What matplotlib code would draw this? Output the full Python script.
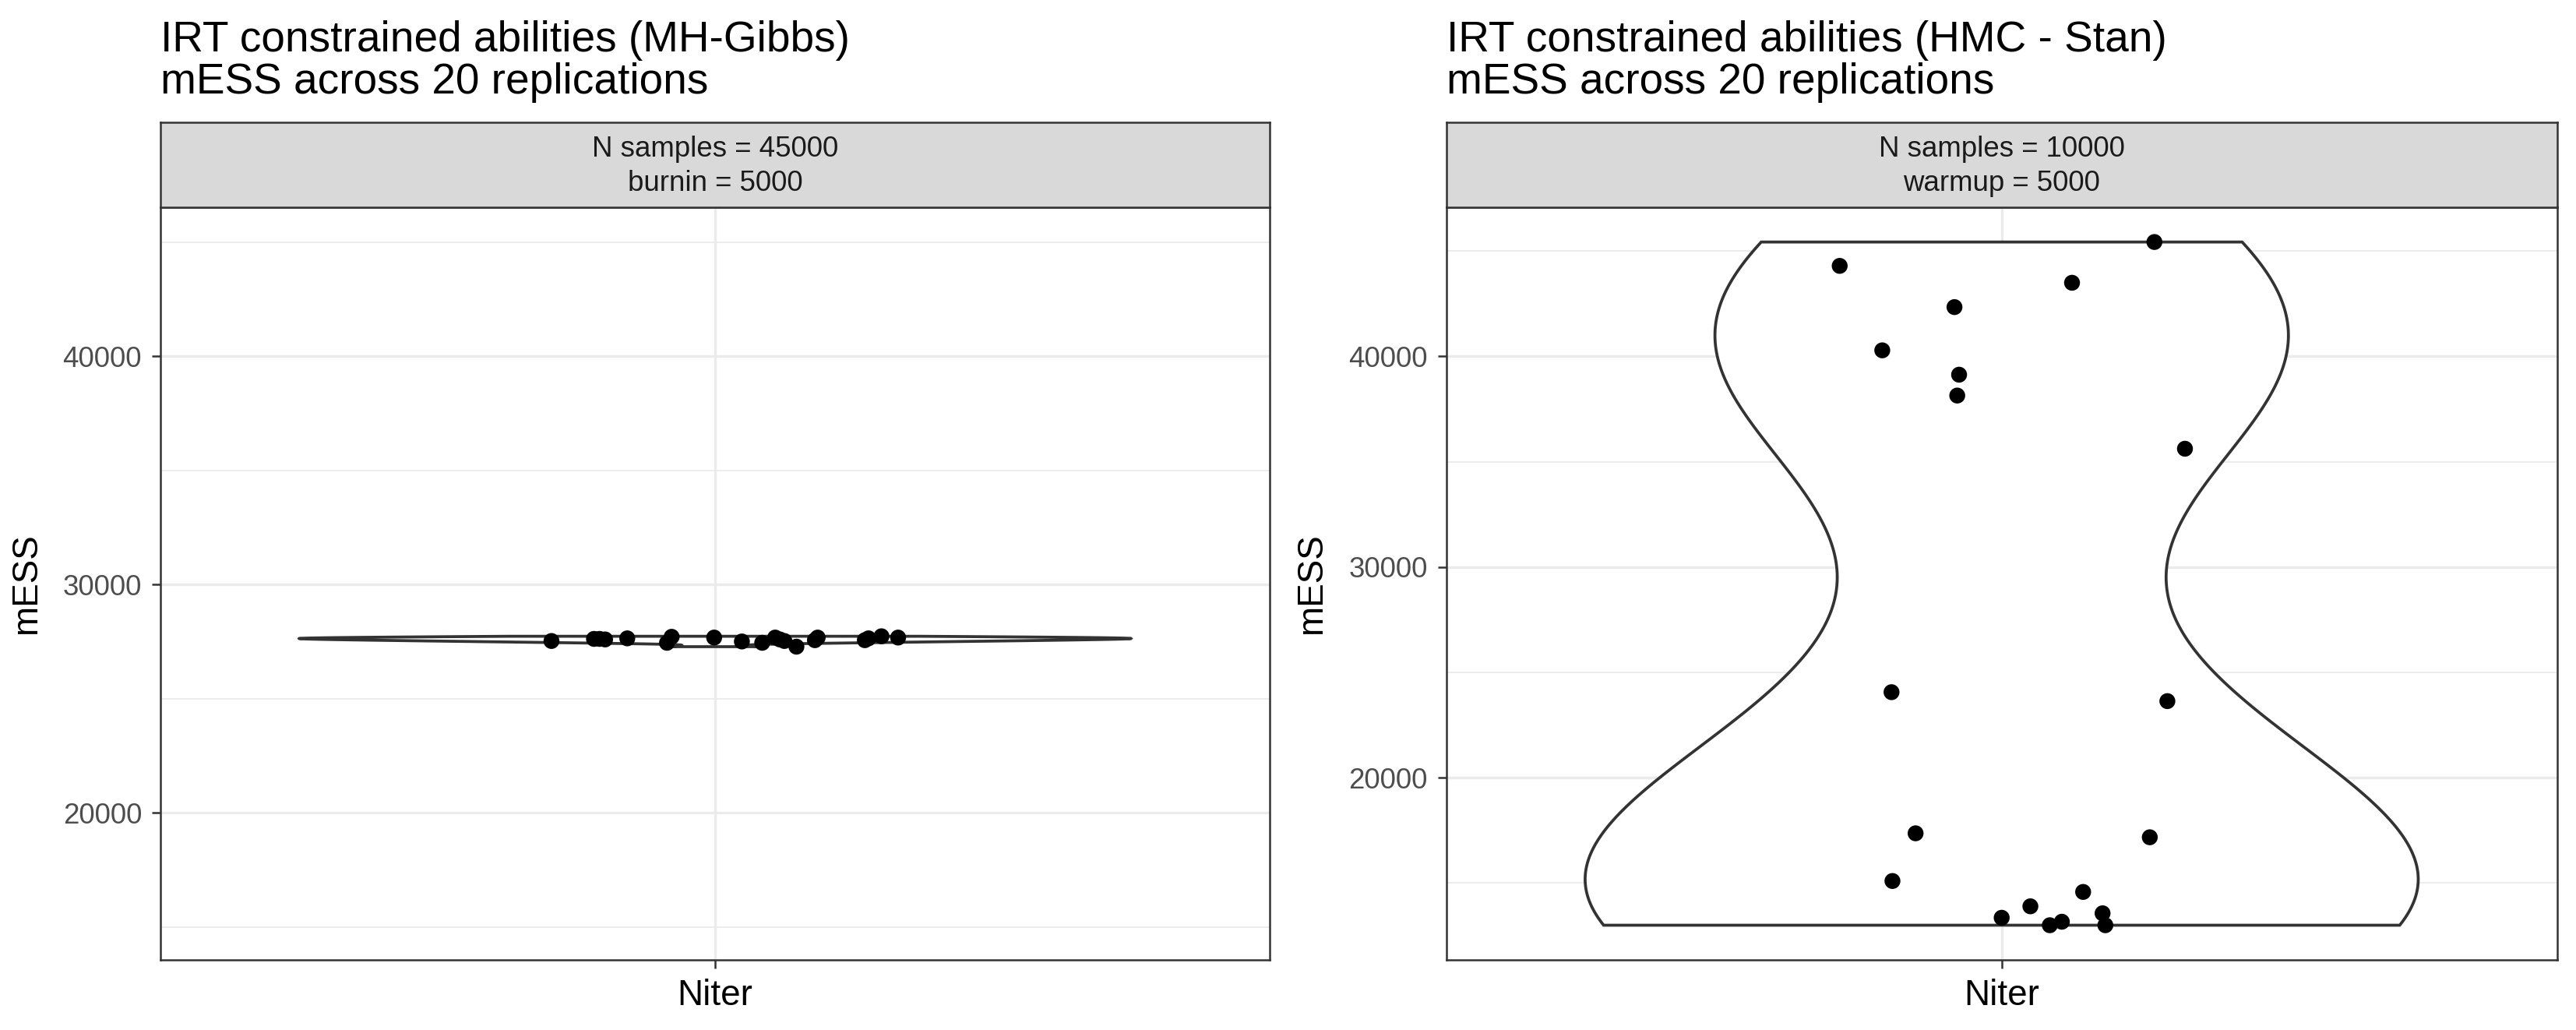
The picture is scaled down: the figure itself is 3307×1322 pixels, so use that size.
import numpy as np
import matplotlib
matplotlib.use("Agg")
import matplotlib.pyplot as plt

plt.rcParams['font.family'] = ['Liberation Sans', 'DejaVu Sans']

# ---------------- data ----------------
category = "Niter"
titles = ["IRT constrained abilities (MH-Gibbs)\nmESS across 20 replications",
          "IRT constrained abilities (HMC - Stan)\nmESS across 20 replications"]
strip_labels = ["N samples = 45000\nburnin = 5000",
                "N samples = 10000\nwarmup = 5000"]

mh_mess = [27519, 27611, 27611, 27588, 27635, 27703, 27440, 27669, 27498, 27440,
           27669, 27588, 27519, 27270, 27669, 27554, 27554, 27635, 27726, 27669]
mh_jitter = [-0.177, -0.131, -0.125, -0.119, -0.095, -0.047, -0.052, -0.001, 0.029, 0.051,
             0.065, 0.070, 0.075, 0.088, 0.111, 0.108, 0.162, 0.166, 0.180, 0.198]

hmc_mess = [45425, 44292, 43491, 42335, 40283, 39127, 38137, 35613, 24057, 23632,
            17358, 17170, 15094, 14575, 13892, 13349, 13561, 13160, 12995, 12995]
hmc_jitter = [0.165, -0.175, 0.076, -0.051, -0.129, -0.046, -0.048, 0.198, -0.119, 0.179,
              -0.093, 0.160, -0.118, 0.088, 0.031, 0.000, 0.109, 0.065, 0.052, 0.112]

y_limits = [(13560, 46520), (11361, 47075)]
major_ticks = [20000, 30000, 40000]
minor_ticks = [15000, 25000, 35000, 45000]

# ---------------- helpers ----------------
GRID = '#EBEBEB'
DARK = '#333333'


def violin_outline(values, npts=512, half_width=0.45):
    v = np.asarray(values, dtype=float)
    n = len(v)
    sd = v.std(ddof=1)
    q75, q25 = np.percentile(v, [75, 25])
    lo = min(sd, (q75 - q25) / 1.34)
    if lo <= 0:
        lo = sd
    bw = 0.9 * lo * n ** (-0.2)
    y = np.linspace(v.min(), v.max(), npts)
    dens = np.exp(-0.5 * ((y[:, None] - v[None, :]) / bw) ** 2).sum(axis=1)
    dens = dens / dens.max() * half_width
    return y, dens


W, H = 3307, 1322
fig = plt.figure(figsize=(W / 300, H / 300), dpi=300)

panels = [
    dict(x0=206, x1=1630, vals=mh_mess, jit=mh_jitter),
    dict(x0=1856.7, x1=3282.7, vals=hmc_mess, jit=hmc_jitter),
]
top_px, bot_px, strip_top_px = 266, 1231.7, 156.7

for i, p in enumerate(panels):
    ax = fig.add_axes([p['x0'] / W, 1 - bot_px / H, (p['x1'] - p['x0']) / W, (bot_px - top_px) / H])
    ax.set_xlim(0.4, 1.6)
    ax.set_ylim(*y_limits[i])
    ax.set_facecolor('white')
    for yv in minor_ticks:
        ax.axhline(yv, color=GRID, lw=0.45, zorder=0)
    for yv in major_ticks:
        ax.axhline(yv, color=GRID, lw=0.8, zorder=0)
    ax.axvline(1, color=GRID, lw=0.8, zorder=0)

    yy, dd = violin_outline(p['vals'])
    xs = np.concatenate([1 + dd, (1 - dd)[::-1]])
    ys = np.concatenate([yy, yy[::-1]])
    ax.fill(xs, ys, facecolor='white', edgecolor=DARK, lw=0.9, zorder=2, closed=True)

    ax.scatter(1 + np.asarray(p['jit']), p['vals'], s=24, color='black',
               edgecolors='none', zorder=3)

    ax.set_yticks(major_ticks)
    ax.set_yticklabels([str(t) for t in major_ticks])
    ax.set_xticks([1])
    ax.set_xticklabels([category])
    ax.tick_params(axis='y', length=2.75, width=0.6, color=DARK, labelsize=8.8,
                   labelcolor='#4D4D4D', pad=3)
    ax.tick_params(axis='x', length=2.75, width=0.6, color=DARK, labelsize=11,
                   labelcolor='black', pad=3)
    for s in ax.spines.values():
        s.set_color(DARK)
        s.set_linewidth(0.6)
    ax.set_ylabel('mESS', fontsize=11, labelpad=6)

    # strip
    sax = fig.add_axes([p['x0'] / W, 1 - top_px / H, (p['x1'] - p['x0']) / W, (top_px - strip_top_px) / H])
    sax.set_facecolor('#D9D9D9')
    sax.set_xticks([])
    sax.set_yticks([])
    for s in sax.spines.values():
        s.set_color(DARK)
        s.set_linewidth(0.6)
    sax.text(0.5, 0.48, strip_labels[i], ha='center', va='center', fontsize=8.8,
             color='#1A1A1A', linespacing=1.3, transform=sax.transAxes)

    # title
    fig.text(p['x0'] / W, 1 - 26 / H, titles[i], ha='left', va='top', fontsize=13.2,
             color='black', linespacing=1.05)

fig.savefig('out.png', dpi=300, facecolor='white')
